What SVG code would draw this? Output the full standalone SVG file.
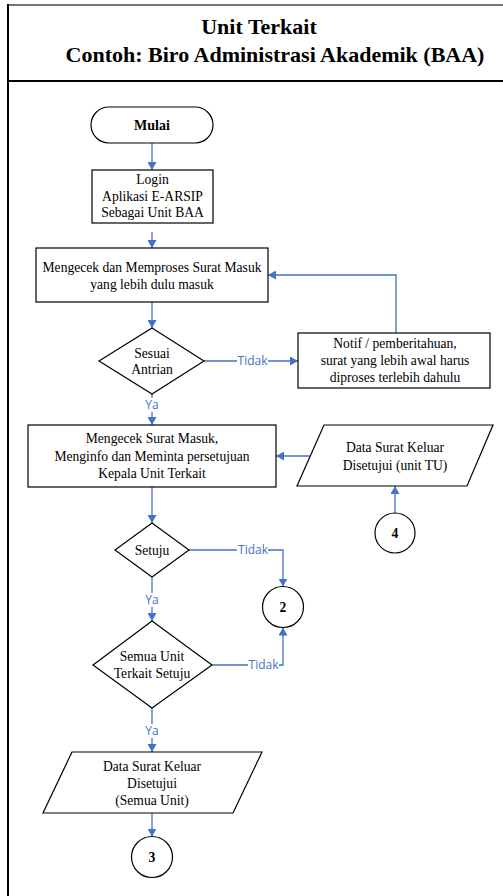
<svg xmlns="http://www.w3.org/2000/svg" width="503" height="896" viewBox="0 0 503 896">
<defs>
<marker id="ah" markerUnits="userSpaceOnUse" markerWidth="8" markerHeight="9" refX="8" refY="4.5" orient="auto">
<path d="M0,0 L8,4.5 L0,9 z" fill="#4472C4"/>
</marker>
<style>
.n{fill:#fff;stroke:#000;stroke-width:1.2}
.t{font-family:"Liberation Serif","DejaVu Serif",serif;font-size:13.6px;fill:#000;text-anchor:middle}
.b{font-weight:700}
.h{font-size:22px}
.m{font-size:14px}
.c{fill:none;stroke:#4472C4;stroke-width:1.3;marker-end:url(#ah)}
.l{font-family:"Open Sans","Liberation Sans",sans-serif;font-size:12px;fill:#4472C4;text-anchor:middle}
.lb{fill:#fff}
</style>
</defs>
<rect x="0" y="0" width="503" height="896" fill="#fff"/>
<g id="frame">
<line x1="8" y1="5" x2="503" y2="5" stroke="#777" stroke-width="2"/>
<line x1="8" y1="81" x2="503" y2="81" stroke="#000" stroke-width="2"/>
<line x1="8" y1="4" x2="8" y2="896" stroke="#000" stroke-width="2"/>
<text class="t b h" x="259" y="34">Unit Terkait</text>
<text class="t b h" x="275" y="62">Contoh: Biro Administrasi Akademik (BAA)</text>
</g>
<g id="connectors">
<path class="c" d="M152,143 V170"/>
<path class="c" d="M152,232 V248"/>
<path class="c" d="M152,302 V328"/>
<path class="c" d="M204,361 H298"/>
<path class="c" d="M396,333 V275 H268"/>
<path class="c" d="M152,394 V425"/>
<path class="c" d="M310,456 H276"/>
<path class="c" d="M395,513 V486"/>
<path class="c" d="M152,487 V523"/>
<path class="c" d="M189,550 H283 V586.5"/>
<path class="c" d="M152,577 V621"/>
<path class="c" d="M212,665 H283 V627.5"/>
<path class="c" d="M152,708 V752"/>
<path class="c" d="M152,813 V836.5"/>
<rect class="lb" x="237" y="354" width="31" height="14"/>
<text class="l" x="252.5" y="365">Tidak</text>
<rect class="lb" x="144" y="398" width="16" height="14"/>
<text class="l" x="152" y="409">Ya</text>
<rect class="lb" x="237" y="543" width="31" height="14"/>
<text class="l" x="253" y="554">Tidak</text>
<rect class="lb" x="144" y="593" width="16" height="14"/>
<text class="l" x="152" y="604">Ya</text>
<rect class="lb" x="248" y="658" width="31" height="14"/>
<text class="l" x="263.5" y="669">Tidak</text>
<rect class="lb" x="144" y="724" width="16" height="14"/>
<text class="l" x="152" y="735">Ya</text>
</g>
<g id="mulai">
<rect class="n" x="91" y="107" width="122" height="36" rx="18"/>
<text class="t b m" x="152" y="130">Mulai</text>
</g>
<g id="login">
<rect class="n" x="92" y="170" width="121" height="53"/>
<text class="t" x="152.5" y="184">Login</text>
<text class="t" x="152.5" y="200.5">Aplikasi E-ARSIP</text>
<text class="t" x="152.5" y="217">Sebagai Unit BAA</text>
</g>
<g id="proses1">
<rect class="n" x="36" y="248" width="232" height="54"/>
<text class="t" x="152" y="272">Mengecek dan Memproses Surat Masuk</text>
<text class="t" x="152" y="289">yang lebih dulu masuk</text>
</g>
<g id="sesuai">
<polygon class="n" points="152,328 204,361 152,394 99,361"/>
<text class="t" x="152" y="357.5">Sesuai</text>
<text class="t" x="152" y="374">Antrian</text>
</g>
<g id="notif">
<rect class="n" x="298" y="333" width="192" height="55"/>
<text class="t" x="395" y="348">Notif / pemberitahuan,</text>
<text class="t" x="395" y="365">surat yang lebih awal harus</text>
<text class="t" x="395" y="382">diproses terlebih dahulu</text>
</g>
<g id="proses2">
<rect class="n" x="28" y="425" width="248" height="62"/>
<text class="t" x="152" y="443">Mengecek Surat Masuk,</text>
<text class="t" x="152" y="460.5">Menginfo dan Meminta persetujuan</text>
<text class="t" x="152" y="478">Kepala Unit Terkait</text>
</g>
<g id="data-tu">
<polygon class="n" points="324,425 493,425 467,486 297,486"/>
<text class="t" x="395" y="452">Data Surat Keluar</text>
<text class="t" x="395" y="470">Disetujui (unit TU)</text>
</g>
<g id="c4">
<circle class="n" cx="395" cy="533" r="20"/>
<text class="t b" x="395" y="538">4</text>
</g>
<g id="setuju">
<polygon class="n" points="152,523 189,550 152,577 115,550"/>
<text class="t" x="152" y="555">Setuju</text>
</g>
<g id="c2">
<circle class="n" cx="283" cy="607" r="20.5"/>
<text class="t b" x="283" y="612">2</text>
</g>
<g id="semua">
<polygon class="n" points="152,621 212,665 152,708 93,665"/>
<text class="t" x="152" y="661">Semua Unit</text>
<text class="t" x="152" y="678">Terkait Setuju</text>
</g>
<g id="data-semua">
<polygon class="n" points="72,752 262,752 233,813 43,813"/>
<text class="t" x="152" y="771">Data Surat Keluar</text>
<text class="t" x="152" y="788">Disetujui</text>
<text class="t" x="152" y="805">(Semua Unit)</text>
</g>
<g id="c3">
<circle class="n" cx="152" cy="857" r="20.5"/>
<text class="t b" x="152" y="862">3</text>
</g>
</svg>
